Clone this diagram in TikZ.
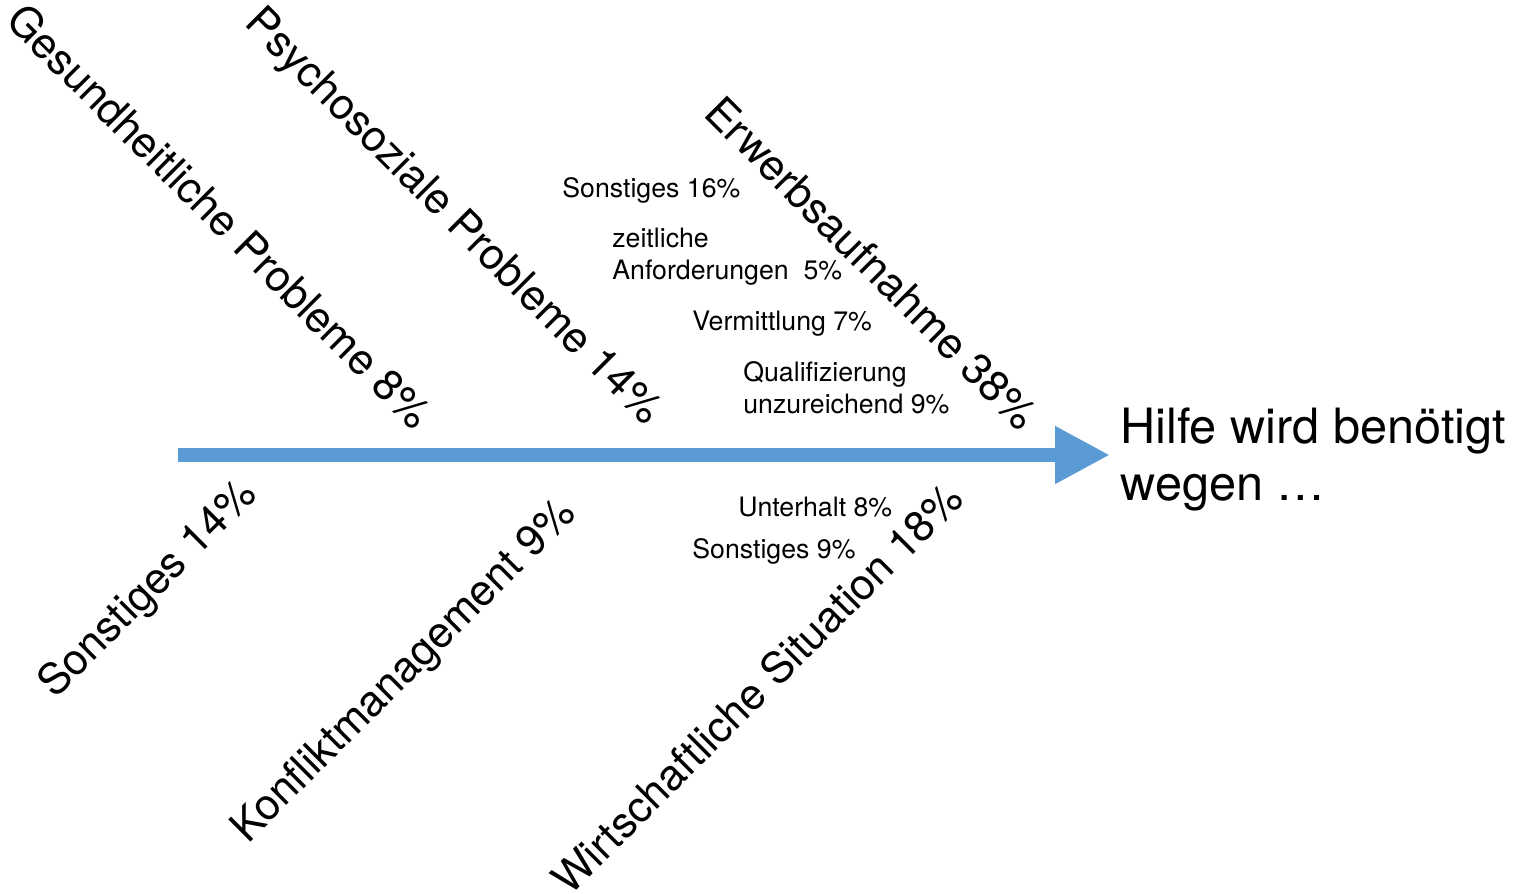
\documentclass[tikz,border=0pt]{standalone}
\usepackage{fontspec}
\setmainfont{TeX Gyre Heros}
\usetikzlibrary{arrows.meta}
\definecolor{spineblue}{RGB}{91,155,213}

\begin{document}
\begin{tikzpicture}[x=0.02cm,y=-0.02cm,
  bone/.style={font=\fontsize{24.5}{28}\selectfont,inner sep=0pt},
  cause/.style={font=\fontsize{15.2}{18.1}\selectfont,align=left,anchor=base west,inner sep=0pt},
]
\useasboundingbox (0,0) rectangle (1515,893);
\coordinate (tail) at (178,455);
\coordinate (head) at (1110,455);
\draw[spineblue,line width=7.9pt,-{Triangle[length=1.1cm,width=1.08cm]}] (tail) -- (head);

\node[bone,rotate=-45] (gesund) at (220,216) {Gesundheitliche Probleme 8\%};
\node[bone,rotate=-45] (psycho) at (452,218) {Psychosoziale Probleme 14\%};
\node[bone,rotate=-45] (erwerb) at (872,263) {Erwerbsaufnahme 38\%};
\node[bone,rotate=45] (sonst) at (149,590) {Sonstiges 14\%};
\node[bone,rotate=45] (konflikt) at (405,672) {Konfliktmanagement 9\%};
\node[bone,rotate=45] (wirtschaft) at (757,688) {Wirtschaftliche Situation 18\%};

\node[cause] (sonst16) at (562,197) {Sonstiges 16\%};
\node[cause] (zeit) at (612,279) {zeitliche\\Anforderungen\ \ 5\%};
\node[cause] (vermittl) at (692,330) {Vermittlung 7\%};
\node[cause] (quali) at (743,413) {Qualifizierung\\unzureichend 9\%};
\node[cause] (unterh) at (738,516) {Unterhalt 8\%};
\node[cause] (sonst9) at (692,558) {Sonstiges 9\%};

\node[font=\fontsize{27.7}{32.3}\selectfont,align=left,anchor=base west,inner sep=0pt] (hilfe) at (1120,500) {Hilfe wird benötigt\\wegen …};
\end{tikzpicture}
\end{document}
